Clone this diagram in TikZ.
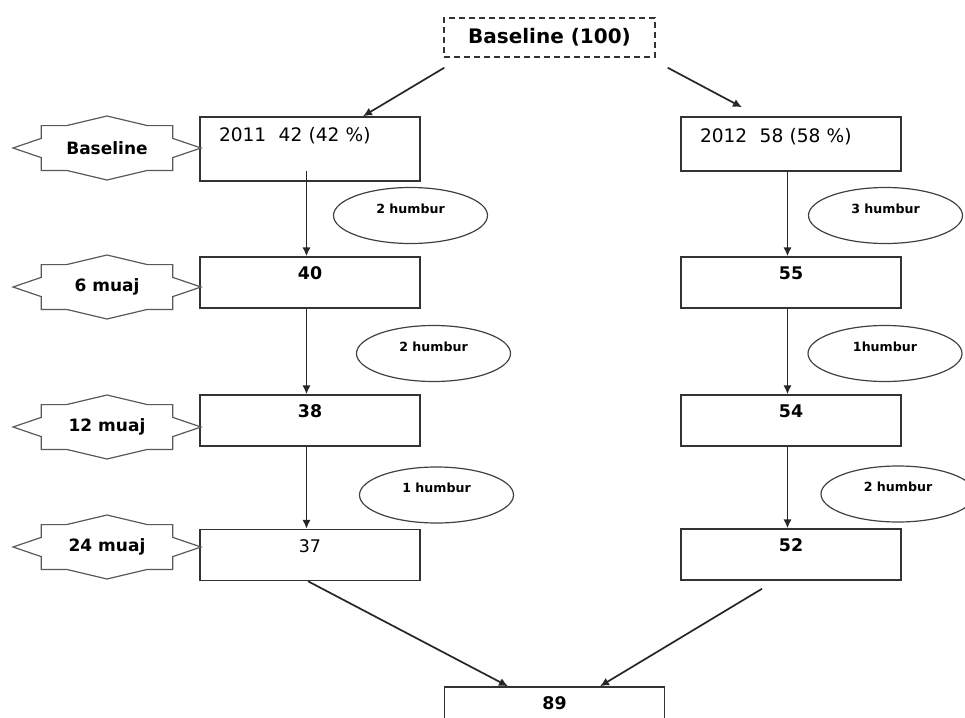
\documentclass[tikz,border=0pt]{standalone}
\usepackage{fontspec}
\setmainfont{DejaVu Sans}
\usetikzlibrary{shapes.geometric,arrows.meta}

\begin{document}
\begin{tikzpicture}
[x=0.5pt,y=-0.5pt,
  boxDecorate/.style={shape=rectangle,draw=black!80,line width=0.75pt,minimum width=110pt,
    minimum height=25.5pt,inner sep=0pt,text height=6.2pt,text depth=9pt,
    font=\fontsize{8.7}{10}\selectfont},%
  yearDecorate/.style={boxDecorate,text width=91pt,align=left,inner xsep=9.5pt,
    font=\fontsize{9.3}{11}\selectfont},%
  ovalDecorate/.style={shape=ellipse,draw=black!75,line width=0.6pt,minimum width=77pt,
    minimum height=28pt,inner sep=0pt,text height=4.5pt,text depth=7pt,
    font=\fontsize{6.3}{7}\selectfont\bfseries},%
  sealDecorate/.style={draw=black!65,line width=0.6pt},%
  lineDecorate/.style={-{Latex[length=4.5pt,width=4.2pt]},line width=0.85pt,draw=black!85}]
\clip (0,0) rectangle (965,718);
%% top box
\node (top) at (549.5,37.5) [draw=black!80,dashed,dash pattern=on 3pt off 2pt,line width=0.7pt,
  minimum width=105.5pt,minimum height=19.5pt,font=\fontsize{10}{12}\selectfont\bfseries] {Baseline (100)};
%% year boxes
\node (L0) at (310,149) [yearDecorate,minimum height=32pt,text depth=13.5pt] {2011\ \ 42 (42~\%)};
\node (R0) at (791,144) [yearDecorate,minimum height=27pt,text depth=8pt] {2012\ \ 58 (58~\%)};
%% boxes or vertices
\foreach \nodename/\x/\y/\txt in {
  L6/310/282.5/\textbf{40}, L12/310/420.5/\textbf{38}, L24/310/555/37,
  R6/791/282.5/\textbf{55}, R12/791/420.5/\textbf{54}, R24/791/554.5/\textbf{52},
  B/554.5/712.5/\textbf{89}}
{
  \node (\nodename) at (\x,\y) [boxDecorate] {\txt};
}
%% losses
\foreach \nodename/\x/\y/\txt in {
  E1/410.5/215.5/2 humbur, E2/433.5/353.5/2 humbur, E3/436.5/495/1 humbur,
  F1/885.5/215.5/3 humbur, F2/885/353.5/1humbur, F3/898/494/2 humbur}
{
  \node (\nodename) at (\x,\y) [ovalDecorate] {\txt};
}
%% time labels
\foreach \nodename/\y/\txt in {s0/148/Baseline, s6/287/6 muaj, s12/427/12 muaj, s24/547/24 muaj}
{
  \node (\nodename) at (107,\y) [font=\fontsize{8.5}{10}\selectfont\bfseries] {\txt};
  \draw[sealDecorate,shift={(\nodename.center)},x=47pt,y=16pt]
    (1,0) -- (.7,.3) -- (.7,.7) -- (.43,.7) -- (0,1) -- (-.43,.7) -- (-.7,.7) -- (-.7,.3)
    -- (-1,0) -- (-.7,-.3) -- (-.7,-.7) -- (-.43,-.7) -- (0,-1) -- (.43,-.7) -- (.7,-.7)
    -- (.7,-.3) -- cycle;
}
%% edges or lines
\draw[lineDecorate] ([xshift=0.5pt,yshift=-5pt]top.south west) -- ([xshift=26.5pt]L0.north);
\draw[lineDecorate] ([xshift=6pt,yshift=-5pt]top.south east) -- ([xshift=-24.5pt,yshift=4.5pt]R0.north);
\foreach \startnode/\endnode/\s in {L0/L6/-5.5pt, L6/L12/0pt, L12/L24/0pt,
  R0/R6/0pt, R6/R12/0pt, R12/R24/0pt}
{
  \draw[lineDecorate,shorten <=\s] ([xshift=-1.75pt]\startnode.south) -- ([xshift=-1.75pt]\endnode.north);
}
\draw[lineDecorate] ([xshift=-1pt]L24.south) -- ([xshift=-23.25pt]B.north);
\draw[lineDecorate] ([xshift=-14.5pt,yshift=-4pt]R24.south) -- ([xshift=22.75pt]B.north);
\end{tikzpicture}
\end{document}
